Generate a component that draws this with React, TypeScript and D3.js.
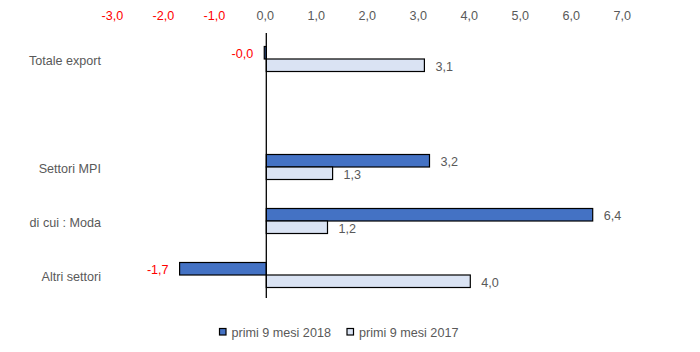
import React from 'react';
import * as d3 from 'd3';

const categories = ['Totale export', '', 'Settori MPI', 'di cui : Moda', 'Altri settori'];
const series2018 = [-0.04, null, 3.2, 6.4, -1.7];
const series2017 = [3.1, null, 1.3, 1.2, 4.0];
const seriesNames = ['primi 9 mesi 2018', 'primi 9 mesi 2017'];
const tickValues = [-3, -2, -1, 0, 1, 2, 3, 4, 5, 6, 7];

const W = 700;
const H = 352;
const FONT = 'Liberation Sans, Arial, sans-serif';
const FS = 12.6;
const GREY = '#595959';
const RED = '#ff0000';
const COLORS = ['#4472c4', '#dae3f3'];

const fmt = (v: number) => (v < 0 ? '-' : '') + Math.abs(v).toFixed(1).replace('.', ',');

export default function App() {
  const x = d3.scaleLinear().domain([-3, 7]).range([113.3, 623.3]);
  const y = d3.scaleBand().domain(categories.map((c, i) => String(i))).range([32, 302]);
  const barH = 12.5;
  const x0 = x(0);

  const bars: { v: number; s: number; i: number }[] = [];
  categories.forEach((_, i) => {
    [series2018[i], series2017[i]].forEach((v, s) => {
      if (v !== null && v !== undefined) bars.push({ v, s, i });
    });
  });

  return (
    <svg width={W} height={H} style={{ position: 'absolute', left: 0, top: 0 }} fontFamily={FONT}>
      <rect width={W} height={H} fill="#fff" />
      {/* tick labels on top */}
      {tickValues.map(t => (
        <text key={t} x={x(t) - 1} y={19.5} textAnchor="middle" fontSize={FS} fill={t < 0 ? RED : GREY}>
          {fmt(t)}
        </text>
      ))}
      {/* category labels */}
      {categories.map((c, i) => (
        <text key={i} x={101} y={(y(String(i)) ?? 0) + y.bandwidth() / 2 + 5.5} textAnchor="end" fontSize={FS} fill={GREY}>
          {c}
        </text>
      ))}
      {/* bars */}
      {bars.map(b => {
        const cy = (y(String(b.i)) ?? 0) + y.bandwidth() / 2;
        const top = b.s === 0 ? cy - barH : cy;
        const xa = Math.min(x(b.v), x0);
        const w = Math.abs(x(b.v) - x0);
        return (
          <rect key={`${b.i}-${b.s}`} x={xa} y={top} width={w} height={barH}
            fill={COLORS[b.s]} stroke="#000" strokeWidth={1.2} />
        );
      })}
      {/* value labels */}
      {bars.map(b => {
        const cy = (y(String(b.i)) ?? 0) + y.bandwidth() / 2;
        const ly = b.s === 0 ? cy - barH / 2 + 5.5 : cy + barH / 2 + 5.5;
        const neg = b.v < 0;
        return (
          <text key={`l${b.i}-${b.s}`} x={neg ? x(b.v) - 11 : x(b.v) + 11} y={ly}
            textAnchor={neg ? 'end' : 'start'} fontSize={FS} fill={neg ? RED : GREY}>
            {fmt(b.v)}
          </text>
        );
      })}
      {/* zero axis */}
      <line x1={x0} x2={x0} y1={33} y2={298} stroke="#000" strokeWidth={1.3} />
      {/* legend */}
      {seriesNames.map((n, s) => {
        const lx = s === 0 ? 219.5 : 347;
        return (
          <g key={n} transform={`translate(${lx},0)`}>
            <rect x={0} y={328.5} width={6.5} height={6.5} fill={COLORS[s]} stroke="#000" strokeWidth={1.2} />
            <text x={12} y={337} fontSize={FS} fill={GREY}>{n}</text>
          </g>
        );
      })}
    </svg>
  );
}
